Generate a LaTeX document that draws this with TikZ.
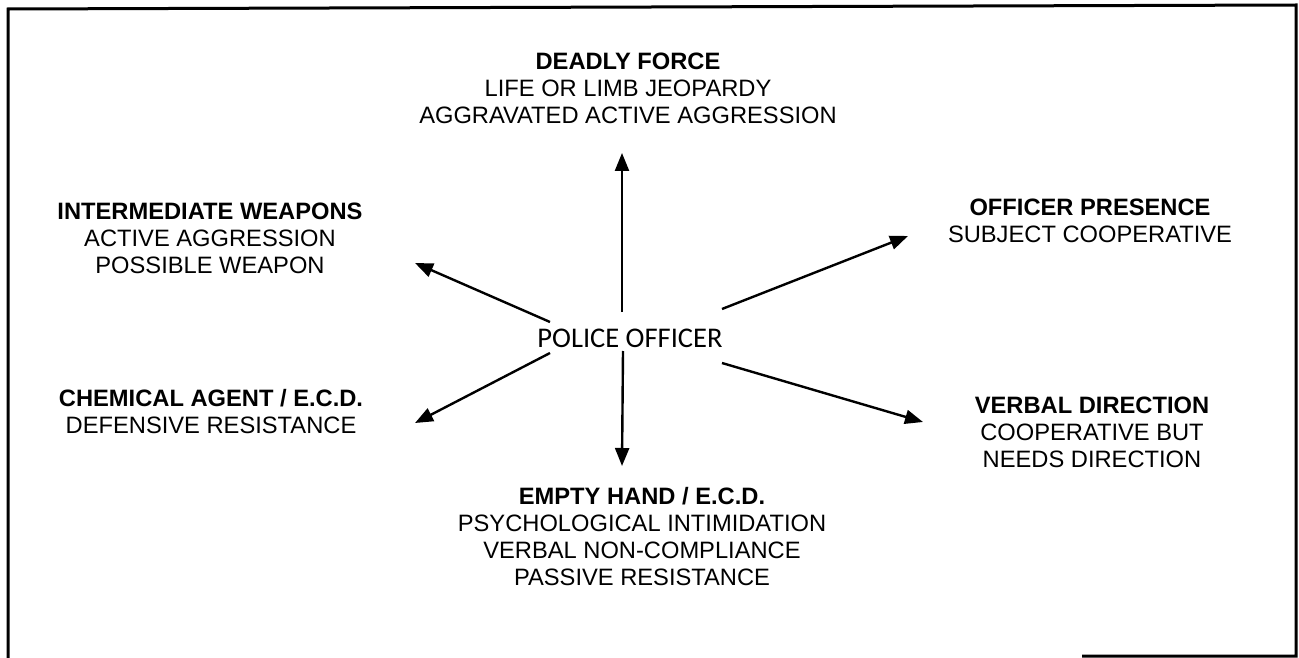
\documentclass[tikz,border=0pt]{standalone}
\usepackage{fontspec}
\setmainfont{Liberation Sans}
\newfontfamily\calibri{Carlito}
\usetikzlibrary{calc,arrows.meta}

\begin{document}
\begin{tikzpicture}[x=1pt, y=-1pt,
  level/.style={align=center, inner sep=0pt, font=\fontsize{23.7}{27}\selectfont},
  arr/.style={-{Triangle[length=18pt, width=14pt]}, line width=2.4pt}]
\useasboundingbox (0,0) rectangle (1299,658);
\draw[line width=3pt] (1082,656) -- (1296,656) -- (1296,5) -- (8,9) -- (8,658);
\node[inner sep=0pt, font=\calibri\fontsize{28.5}{30}\selectfont] (officer) at (630,338) {POLICE OFFICER};
\node[level] (deadly) at (628,88) {\textbf{DEADLY FORCE}\\ LIFE OR LIMB JEOPARDY\\ AGGRAVATED ACTIVE AGGRESSION};
\node[level] (inter) at (210,238) {\textbf{INTERMEDIATE WEAPONS}\\ ACTIVE AGGRESSION\\ POSSIBLE WEAPON};
\node[level] (presence) at (1090,221) {\textbf{OFFICER PRESENCE}\\ SUBJECT COOPERATIVE};
\node[level] (chem) at (211,412) {\textbf{CHEMICAL AGENT / E.C.D.}\\ DEFENSIVE RESISTANCE};
\node[level] (verbal) at (1092,432) {\textbf{VERBAL DIRECTION}\\ COOPERATIVE BUT\\ NEEDS DIRECTION};
\node[level] (empty) at (642,537) {\textbf{EMPTY HAND / E.C.D.}\\ PSYCHOLOGICAL INTIMIDATION\\ VERBAL NON-COMPLIANCE\\ PASSIVE RESISTANCE};
\draw[arr] ($(officer)+(-8,-26)$) -- ($(deadly)+(-6,65)$);
\draw[arr] ($(officer)+(-80,-16)$) -- ($(inter)+(205,25)$);
\draw[arr] ($(officer)+(92,-29)$) -- ($(presence)+(-182,15)$);
\draw[arr] ($(officer)+(-80,15)$) -- ($(chem)+(204,11)$);
\draw[arr] ($(officer)+(92,25)$) -- ($(verbal)+(-169,-10)$);
\draw[arr] ($(officer)+(-7,13)$) -- ($(empty)+(-20,-71)$);
\end{tikzpicture}
\end{document}
